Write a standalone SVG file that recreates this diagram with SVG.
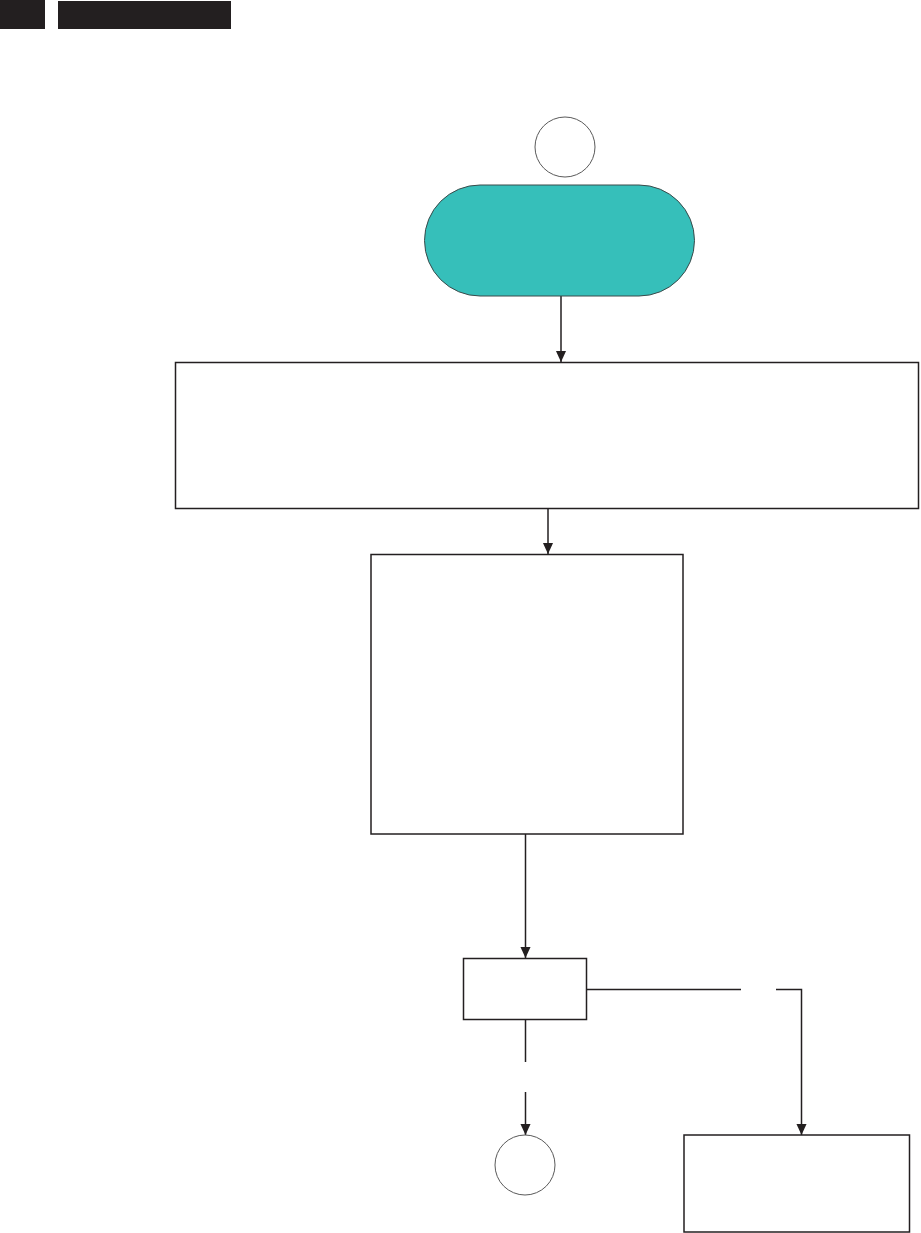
<svg xmlns="http://www.w3.org/2000/svg" width="921" height="1233" viewBox="0 0 921 1233">
<style>
.box{fill:#fff;stroke:#231f20;stroke-width:1.5}
.circ{fill:#fff;stroke:#5a5a5a;stroke-width:1}
.pill{fill:#36bfba;stroke:#3a4a4a;stroke-width:1}
.hdr{fill:#231f20}
.ln{fill:none;stroke:#231f20;stroke-width:1.5}
</style>
<defs>
<marker id="arr" markerUnits="userSpaceOnUse" markerWidth="12" markerHeight="13" refX="6" refY="12" orient="auto-start-reverse" viewBox="0 0 12 13">
<path d="M0.5,0 L11.5,0 L6,12 Z" fill="#231f20" transform="rotate(0)"/>
</marker>
<marker id="arrd" markerUnits="userSpaceOnUse" markerWidth="12" markerHeight="13" refX="12" refY="6" orient="auto" viewBox="0 0 13 12">
<path d="M0,0.5 L0,11.5 L12,6 Z" fill="#231f20"/>
</marker>
</defs>
<g id="header">
<rect class="hdr" x="0" y="0" width="45" height="29"/>
<rect class="hdr" x="58" y="1" width="173" height="28"/>
</g>
<g id="connectors">
<line class="ln" x1="561" y1="296" x2="561" y2="362" marker-end="url(#arrd)"/>
<line class="ln" x1="548" y1="508" x2="548" y2="554" marker-end="url(#arrd)"/>
<line class="ln" x1="525.5" y1="831" x2="525.5" y2="958" marker-end="url(#arrd)"/>
<line class="ln" x1="525.5" y1="1019" x2="525.5" y2="1062"/>
<line class="ln" x1="525.5" y1="1092" x2="525.5" y2="1135" marker-end="url(#arrd)"/>
<line class="ln" x1="586.5" y1="989.5" x2="741" y2="989.5"/>
<polyline class="ln" points="776,989.5 801.5,989.5 801.5,1135" marker-end="url(#arrd)"/>
</g>
<g id="start-circle"><circle class="circ" cx="565" cy="147" r="30"/></g>
<g id="start-pill"><rect class="pill" x="424.5" y="185" width="270" height="111" rx="55.5" ry="55.5"/></g>
<g id="box1"><rect class="box" x="175.5" y="362.5" width="743" height="146"/></g>
<g id="box2"><rect class="box" x="371" y="554.5" width="312" height="279.5"/></g>
<g id="box3"><rect class="box" x="463.5" y="958.5" width="123" height="61"/></g>
<g id="end-circle"><circle class="circ" cx="525" cy="1165" r="30"/></g>
<g id="box4"><rect class="box" x="684" y="1135" width="225.5" height="97"/></g>
</svg>
